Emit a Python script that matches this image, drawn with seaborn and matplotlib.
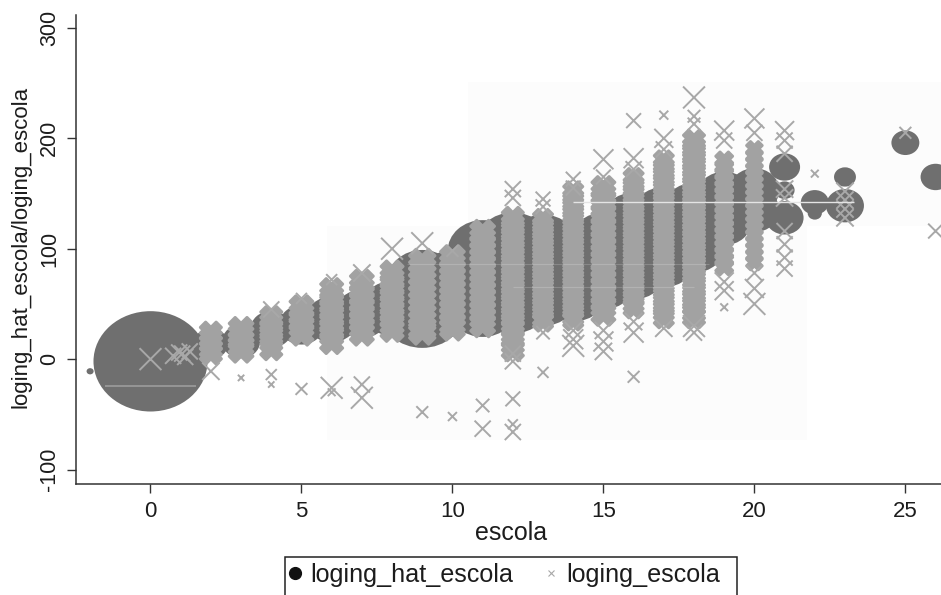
import numpy as np
import pandas as pd
import matplotlib
matplotlib.use("Agg")
import matplotlib.pyplot as plt
import seaborn as sns
from matplotlib.lines import Line2D
from matplotlib.patches import Rectangle
from matplotlib.path import Path
from matplotlib.transforms import Affine2D

# ---------- fitted values: loging_hat_escola (weight = bubble size) ----------
hat_x = [-2, 0, 1, 2, 3, 4, 5, 6, 7, 8, 9, 9, 10, 10, 11, 11, 12, 12, 13, 13,
         14, 14, 15, 15, 16, 16, 17, 17, 18, 18, 19, 19, 20, 20, 21, 21, 21,
         22, 22, 23, 23, 25, 26]
hat_y = [-11, -2, 5, 14, 16, 27, 31, 36, 41, 46, 44, 71, 75, 48, 98, 48, 103, 53, 103, 58,
         98, 62, 107, 71, 125, 80, 130, 91, 135, 103, 148, 125, 153, 135, 174, 153, 128,
         142, 132, 165, 139, 196, 165]
hat_w = [5, 1300, 40, 120, 145, 175, 200, 270, 300, 385, 720, 490, 360, 360, 490, 490, 560, 560, 490, 490,
         490, 490, 420, 420, 420, 420, 420, 420, 385, 385, 300, 300, 250, 250, 96, 40, 144,
         78, 20, 48, 144, 78, 90]

# ---------- observed values: loging_escola, dense part of every column ----------
col_02 = [24, 19, 14, 9, 5]
col_03 = [27, 22, 17, 12, 8]
col_04 = [38, 33, 27, 21, 15, 9]
col_05 = [47, 41, 35, 29, 23]
col_06 = [63, 57, 51, 45, 39, 33, 27, 21, 15]
col_07 = [70, 64, 58, 52, 46, 40, 34, 28, 23]
col_08 = [79, 73, 67, 61, 55, 49, 43, 37, 31, 26]
col_09 = [88, 82, 76, 70, 64, 58, 52, 46, 40, 34, 28, 25]
col_10 = [92, 86, 80, 74, 68, 62, 56, 50, 44, 38, 32, 28]
col_11 = [115, 109, 103, 97, 91, 85, 79, 73, 67, 61, 55, 49, 43, 37, 31]
col_12 = [128, 122, 116, 110, 104, 98, 92, 86, 80, 74, 68, 62, 56, 50, 44, 38, 32, 27, 19, 13, 8]
col_13 = [127, 121, 115, 109, 103, 97, 91, 85, 79, 73, 67, 61, 55, 49, 43, 37, 34]
col_14 = [152, 146, 140, 134, 128, 122, 116, 110, 104, 98, 92, 86, 80, 74, 68, 62, 56, 50, 44, 38, 35]
col_15 = [155, 149, 143, 137, 131, 125, 119, 113, 107, 101, 95, 89, 83, 77, 71, 65, 59, 53, 47, 41]
col_16 = [164, 158, 152, 146, 140, 134, 128, 122, 116, 110, 104, 98, 92, 86, 80, 74, 68, 62, 56, 50, 46]
col_17 = [180, 174, 168, 162, 156, 150, 144, 138, 132, 126, 120, 114, 108, 102, 96, 90, 84, 78, 72, 66, 60, 54, 48, 42, 37]
col_18 = [198, 192, 186, 180, 174, 168, 162, 156, 150, 144, 138, 132, 126, 120, 114, 108, 102, 96, 90, 84, 78, 72, 66, 60, 54, 48, 42, 38]
col_19 = [180, 174, 168, 162, 156, 150, 144, 138, 132, 126, 120, 114, 108, 102, 96, 90, 84]
col_20 = [190, 184, 178, 172, 166, 160, 154, 148, 142, 136, 130, 124, 118, 112, 106, 100, 94, 88]
solid_cols = [(2, col_02), (3, col_03), (4, col_04), (5, col_05), (6, col_06), (7, col_07),
              (8, col_08), (9, col_09), (10, col_10), (11, col_11), (12, col_12), (13, col_13),
              (14, col_14), (15, col_15), (16, col_16), (17, col_17), (18, col_18), (19, col_19),
              (20, col_20)]
col_weight = [44, 56, 44, 52, 48, 52, 48, 64, 56, 56, 44, 36, 36, 52, 36, 36, 44, 28, 24]

# ---------- observed values: loging_escola, separate crosses (x, y, weight) ----------
cross_rows = [
    (0, 0, 48), (0.75, 3, 26), (0.95, 6, 26), (1.15, 2, 26), (1.3, 7, 26), (1.05, 5, 26),
    (2, -11, 30), (3, -17, 4), (4, -14, 12), (4, -23, 4), (4, 45, 26), (5, -27, 14), (5, 55, 12),
    (6, -26, 48), (6, -30, 6), (6, 72, 12), (7, -23, 26), (7, -35, 48), (7, 78, 30),
    (8, 100, 48), (9, 105, 48), (9, -48, 14), (10, -52, 8), (10, 98, 14),
    (11, -42, 18), (11, -63, 26), (12, 154, 26), (12, 146, 26), (12, -36, 22),
    (12, -59, 10), (12, -66, 26), (12, 5, 26), (12, -2, 26), (13, 145, 22), (13, 138, 22),
    (13, -12, 12), (13, 24, 18), (14, 163, 22), (14, 155, 22), (14, 26, 30), (14, 18, 40), (14, 12, 48),
    (15, 181, 40), (15, 165, 22), (15, 26, 30), (15, 16, 40), (15, 7, 30),
    (16, 216, 22), (16, 182, 40), (16, 172, 26), (16, 34, 30), (16, 24, 40), (16, -16, 14),
    (17, 221, 8), (17, 200, 36), (17, 190, 26), (17, 28, 30),
    (18, 237, 48), (18, 220, 16), (18, 213, 16), (18, 30, 48), (18, 24, 26),
    (19, 207, 40), (19, 198, 26), (19, 70, 36), (19, 62, 36), (19, 47, 6),
    (20, 218, 40), (20, 205, 26), (20, 78, 26), (20, 64, 36), (20, 50, 48),
    (21, 207, 36), (21, 198, 26), (21, 186, 26), (21, 154, 30), (21, 146, 30),
    (21, 116, 26), (21, 104, 26), (21, 92, 26), (21, 82, 26),
    (22, 168, 6), (23, 152, 30), (23, 144, 30), (23, 136, 30), (23, 128, 30),
    (25, 205, 14), (26, 116, 22),
]
cross_x = [r[0] for r in cross_rows]
cross_y = [r[1] for r in cross_rows]
cross_w = [r[2] for r in cross_rows]

# ---------- faint scan lines ----------
scan_y = [142, -24, 86, 65]
scan_from = [14.0, -1.5, 8.5, 12.0]
scan_to = [23.3, 1.5, 18.5, 18.0]

x_ticks = [0, 5, 10, 15, 20, 25]
y_ticks = [-100, 0, 100, 200, 300]

DARK = "#6f6f6f"
GRAY = "#a2a2a2"
INK = "#1c1c1c"

sns.set_theme(style="white")
plt.rcParams["font.family"] = ["Liberation Sans", "DejaVu Sans"]
plt.rcParams["axes.unicode_minus"] = False

W, H = 941, 595
fig = plt.figure(figsize=(W / 100, H / 100), dpi=100)
ax = fig.add_axes([76 / W, (H - 484) / H, (W - 76) / W, (484 - 15) / H])

# faint scanner background patches
ax.set_xlim(-2.467, 26.18)
ax.set_ylim(-113.1, 311.7)
ax.add_patch(Rectangle((5.83, -73), 15.9, 194, fc="#fcfcfc", ec="none", zorder=0))
ax.add_patch(Rectangle((10.5, 121), 15.7, 130, fc="#fcfcfc", ec="none", zorder=0))

# slightly squashed circle: the scan was stretched horizontally
ellipse = Path.unit_circle().transformed(Affine2D().scale(1.0, 0.88))

hat = pd.DataFrame({"x": hat_x, "y": hat_y, "w": hat_w})
sns.scatterplot(data=hat, x="x", y="y", size="w", sizes=(0, 10368), size_norm=(0, 2000),
                marker=ellipse, color=DARK, linewidth=0, edgecolor="none",
                legend=False, ax=ax, zorder=2)

frames = []
for (cx, vals), w in zip(solid_cols, col_weight):
    frames.append(pd.DataFrame({"x": [cx] * len(vals), "y": vals, "w": [w] * len(vals)}))
solid = pd.concat(frames, ignore_index=True)
sns.scatterplot(data=solid, x="x", y="y", size="w", sizes=(0, 5184), size_norm=(0, 1000),
                marker="X", color=GRAY, linewidth=2.2, edgecolor=GRAY,
                legend=False, ax=ax, zorder=3)

cross = pd.DataFrame({"x": cross_x, "y": cross_y, "w": cross_w})
sns.scatterplot(data=cross, x="x", y="y", size="w", sizes=(0, 5184), size_norm=(0, 1000),
                marker="x", color="#a8a8a8", linewidth=1.4,
                legend=False, ax=ax, zorder=4)

ax.hlines(scan_y[0], scan_from[0], scan_to[0], color="#e4e4e4", lw=1.0, zorder=5)
ax.hlines(scan_y[1], scan_from[1], scan_to[1], color="#9c9c9c", lw=1.2, zorder=5)
ax.hlines(scan_y[2:], scan_from[2:], scan_to[2:], color="white", alpha=0.18, lw=0.8, zorder=5)

ax.set_xlim(-2.467, 26.18)
ax.set_ylim(-113.1, 311.7)
ax.set_xticks(x_ticks)
ax.set_yticks(y_ticks)
ax.set_xlabel("escola", fontsize=18, color=INK)
ax.set_ylabel("loging_hat_escola/loging_escola", fontsize=16, color=INK)
ax.xaxis.set_label_coords((511 - 76) / (W - 76), (484 - 533) / (484 - 15), transform=ax.transAxes)
ax.xaxis.label.set_va("center")
ax.yaxis.set_label_coords((21 - 76) / (W - 76), (484 - 247) / (484 - 15), transform=ax.transAxes)
ax.yaxis.label.set_va("center")

ax.tick_params(axis="x", length=6.5, width=1.0, color="#333333", labelsize=16, labelcolor=INK, pad=6, bottom=True)
ax.tick_params(axis="y", length=6.5, width=1.0, color="#333333", labelsize=15.5, labelcolor=INK, pad=5, left=True, labelrotation=90)
for lab in ax.get_yticklabels():
    lab.set_va("center")

sns.despine(ax=ax, top=True, right=True)
for side in ("left", "bottom"):
    ax.spines[side].set_color("#333333")
    ax.spines[side].set_linewidth(1.1)

# legend frame runs off the bottom edge of the picture
fig.add_artist(Rectangle((285 / W, -10 / H), (737 - 285) / W, (H - 557 + 10) / H,
                         transform=fig.transFigure, fill=False, ec="#222222", lw=1.1))
handles = [Line2D([], [], ls="", marker="o", ms=8.5, color="#111111"),
           Line2D([], [], ls="", marker="x", ms=4, mew=0.8, color="#a8a8a8")]
ax.legend(handles, ["loging_hat_escola", "loging_escola"], ncols=2, frameon=False,
          loc="center left", bbox_to_anchor=(289 / W, (H - 575) / H),
          bbox_transform=fig.transFigure, fontsize=18.1, borderpad=0, borderaxespad=0,
          handlelength=0.5, handletextpad=0.35, columnspacing=1.25, labelcolor=INK)

fig.savefig("out.png", dpi=100)
